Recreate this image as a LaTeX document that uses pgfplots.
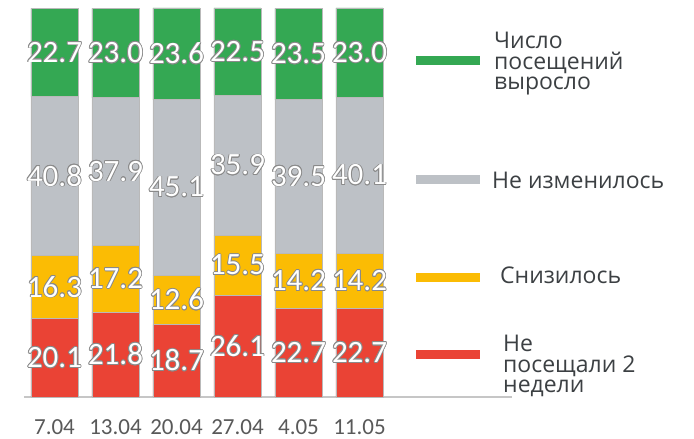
\documentclass[border=0pt]{standalone}
\usepackage{fontspec}
\setmainfont{Carlito}
\newfontfamily\legfont{Open Sans}
\usepackage{pgfplots}
\pgfplotsset{compat=1.18}
\usepackage[copies]{contour}
\contourlength{0.8pt}
\contournumber{12}
\definecolor{cgreen}{HTML}{34A853}
\definecolor{cgray}{HTML}{BDC1C6}
\definecolor{cyellow}{HTML}{FBBC04}
\definecolor{cred}{HTML}{EA4335}
\definecolor{tickgray}{HTML}{595959}
\definecolor{legtext}{HTML}{3C4043}
\definecolor{halo}{HTML}{8A8A8A}
\begin{document}
\begin{tikzpicture}
\useasboundingbox (0,0) rectangle (694pt,439pt);
\begin{axis}[
  at={(24pt,42pt)}, anchor=south west,
  width=488pt, height=389pt, scale only axis,
  xmin=-0.5, xmax=7.5, ymin=0, ymax=100,
  ybar stacked, bar width=47pt,
  axis x line=bottom, axis y line=none,
  x axis line style={draw=gray!45, line width=1.5pt, -},
  xtick={0,...,5},
  xticklabels={7.04,13.04,20.04,27.04,4.05,11.05},
  major tick length=0pt,
  xticklabel style={font=\fontsize{23}{23}\selectfont, text=tickgray, inner sep=0pt, anchor=north, yshift=-22.5pt},
  ytick=\empty,
  clip=false,
  point meta=explicit symbolic,
  nodes near coords={\contour{halo}{\pgfplotspointmeta}},
  every node near coord/.append style={font=\fontsize{31}{31}\selectfont, text=white, anchor=center},
  every axis plot/.append style={draw=gray!55, line width=0.8pt},
]
\addplot[fill=cred] coordinates {(0,20.1)[20.1] (1,21.8)[21.8] (2,18.7)[18.7] (3,26.1)[26.1] (4,22.7)[22.7] (5,22.7)[22.7]};
\addplot[fill=cyellow] coordinates {(0,16.3)[16.3] (1,17.2)[17.2] (2,12.6)[12.6] (3,15.5)[15.5] (4,14.2)[14.2] (5,14.2)[14.2]};
\addplot[fill=cgray] coordinates {(0,40.8)[40.8] (1,37.9)[37.9] (2,45.1)[45.1] (3,35.9)[35.9] (4,39.5)[39.5] (5,40.1)[40.1]};
\addplot[fill=cgreen] coordinates {(0,22.7)[22.7] (1,23.0)[23.0] (2,23.6)[23.6] (3,22.5)[22.5] (4,23.5)[23.5] (5,23.0)[23.0]};
\end{axis}
\draw[cgreen, line width=9pt] (416pt,378pt) -- (480pt,378pt);
\draw[cgray, line width=9pt] (416pt,259pt) -- (480pt,259pt);
\draw[cyellow, line width=9pt] (416pt,161pt) -- (480pt,161pt);
\draw[cred, line width=9pt] (416pt,84pt) -- (480pt,84pt);
\begin{scope}[every node/.style={inner sep=0pt, anchor=west, align=left, text=legtext, font=\legfont\fontsize{23}{20.5}\selectfont}]
\node at (494pt,375pt) {Число\\посещений\\выросло};
\node at (492pt,259pt) {Не изменилось};
\node at (500pt,164pt) {Снизилось};
\node at (503pt,73pt) {Не\\посещали 2\\недели};
\end{scope}
\end{tikzpicture}
\end{document}
